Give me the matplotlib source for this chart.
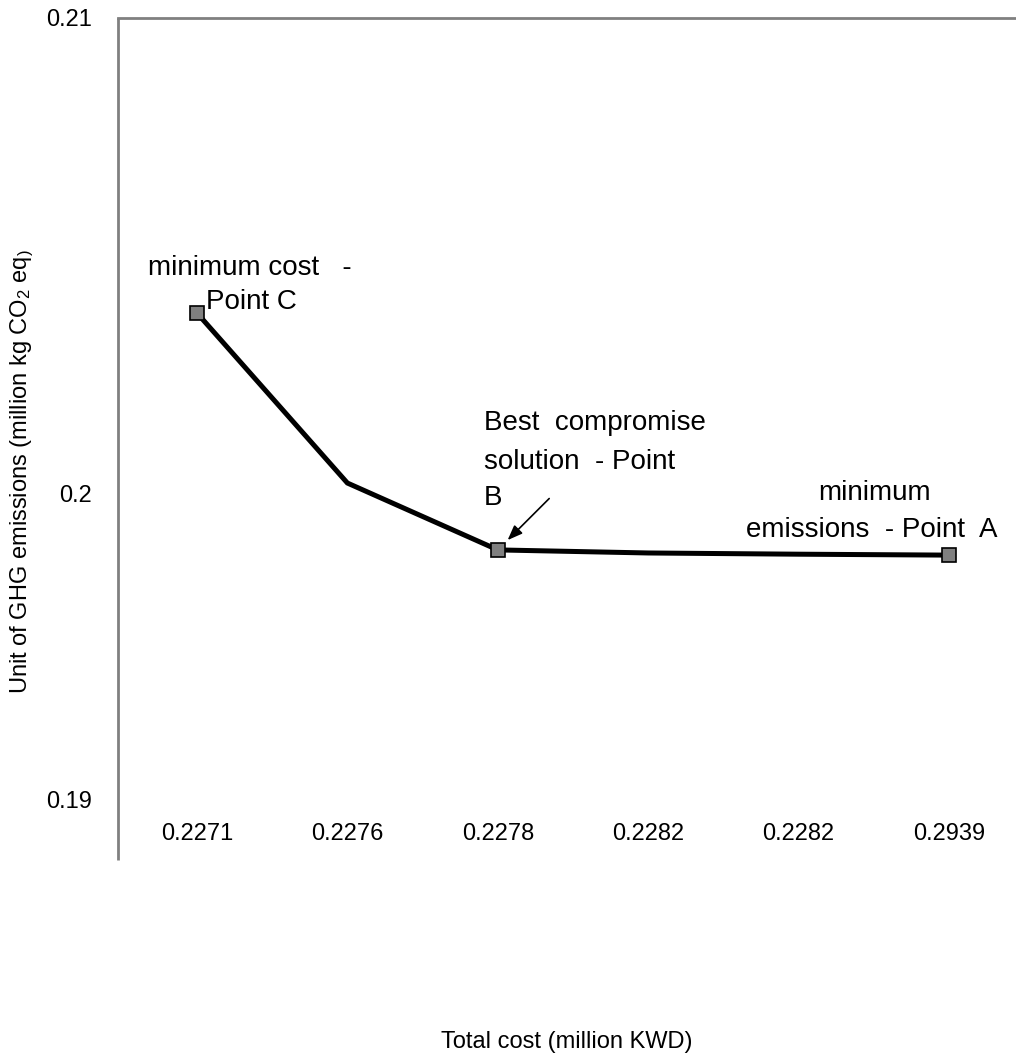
import matplotlib
matplotlib.use("Agg")
import matplotlib.pyplot as plt
import numpy as np

plt.rcParams["font.family"] = ["Liberation Sans", "DejaVu Sans"]
plt.rcParams["mathtext.fontset"] = "custom"
plt.rcParams["mathtext.rm"] = "Liberation Sans"
plt.rcParams["mathtext.it"] = "Liberation Sans:italic"

# Pareto front: total cost (category labels) vs GHG emissions
cost_labels = ["0.2271", "0.2276", "0.2278", "0.2282", "0.2282", "0.2939"]
emissions = [0.20379, 0.20021, 0.19814, 0.19804, 0.19800, 0.19797]
marked = [0, 2, 5]  # points C, B, A

# the y tick labels in the source are not evenly spaced -> piecewise linear axis
Y_TICKS = [0.19, 0.2, 0.21]
Y_TICK_LABELS = ["0.19", "0.2", "0.21"]
Y_PIX = [0, 306, 781]


def fwd(v):
    return np.interp(v, Y_TICKS, Y_PIX)


def inv(p):
    return np.interp(p, Y_PIX, Y_TICKS)


FS = 17
FS_NOTE = 20
GREY = "#808080"

fig = plt.figure(figsize=(10.16, 10.61), dpi=100)
ax = fig.add_axes([118 / 1016, 1 - 799 / 1061, 1 - 118 / 1016, 781 / 1061])

x = np.arange(len(cost_labels))
ax.plot(x, emissions, color="black", lw=3.6, solid_joinstyle="miter", zorder=2)
ax.plot(x[marked], np.array(emissions)[marked], ls="none", marker="s", ms=10.5,
        mfc=GREY, mec="black", mew=1.2, zorder=3)

ax.set_yscale("function", functions=(fwd, inv))
ax.set_ylim(0.19, 0.21)
ax.set_xlim(-0.525, 5.445)
ax.set_yticks(Y_TICKS, Y_TICK_LABELS)
ax.set_xticks(x, cost_labels)
ax.minorticks_off()
ax.tick_params(axis="y", length=0, pad=19, labelsize=FS)
ax.tick_params(axis="x", length=0, pad=17, labelsize=FS)

for side in ["right", "bottom", "left"]:
    ax.spines[side].set_visible(False)
ax.spines["top"].set_color(GREY)
ax.spines["top"].set_linewidth(2)
# left axis line runs a bit below the plot area
ax.plot([0, 0], [1, -0.078], transform=ax.transAxes, color=GREY, lw=2,
        clip_on=False, solid_capstyle="butt")

ax.set_xlabel("Total cost (million KWD)", fontsize=FS, labelpad=134)
ax.set_ylabel(r"Unit of GHG emissions (million kg CO$_2$ eq$_)$", fontsize=FS)
ax.yaxis.set_label_coords(-0.091, 0.419)

# annotations
ax.text(-0.326, 0.20474, "minimum cost   -", fontsize=FS_NOTE, va="center", ha="left")
ax.text(0.06, 0.20402, "Point C", fontsize=FS_NOTE, va="center", ha="left")
ax.text(1.908, 0.201474, "Best  compromise", fontsize=FS_NOTE, va="center", ha="left")
ax.text(1.908, 0.200653, "solution  - Point", fontsize=FS_NOTE, va="center", ha="left")
ax.text(1.908, 0.199837, "B", fontsize=FS_NOTE, va="center", ha="left")
ax.text(4.129, 0.2, "minimum", fontsize=FS_NOTE, va="center", ha="left")
ax.text(3.65, 0.198791, "emissions  - Point  A", fontsize=FS_NOTE, va="center", ha="left")

ax.annotate("", xy=(2, emissions[2]), xytext=(37, 37), textcoords="offset points",
            arrowprops=dict(arrowstyle="-|>,head_length=0.9,head_width=0.35",
                            color="black", lw=1.2, shrinkA=0, shrinkB=10))

fig.savefig("out.png", dpi=100)
